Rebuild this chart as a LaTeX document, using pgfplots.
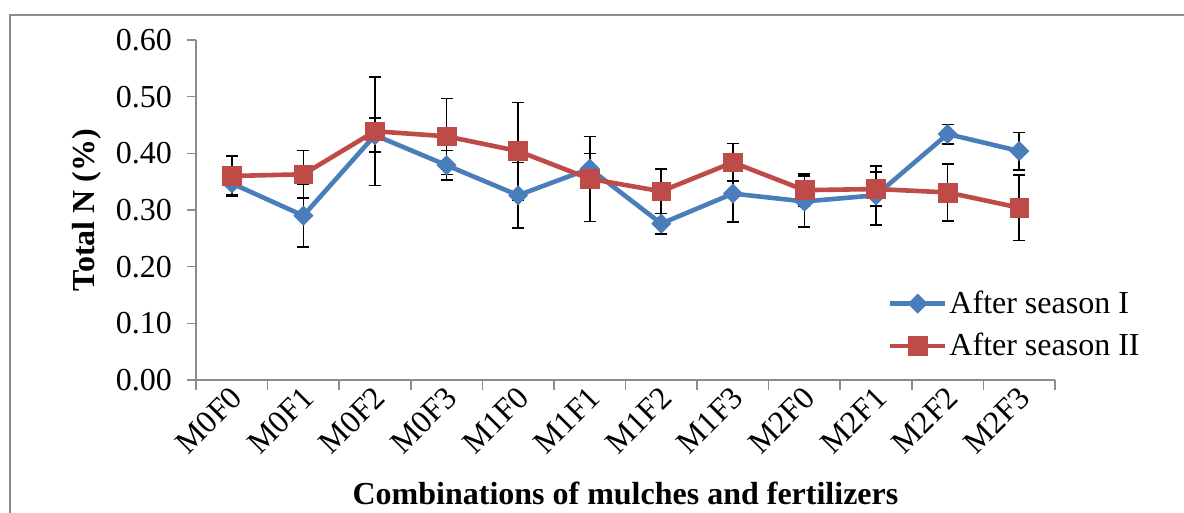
\documentclass[border=0pt]{standalone}
\usepackage{pgfplots}
\pgfplotsset{compat=1.18}
\usepackage{pgfplotstable}
\usepackage{fontspec}
\setmainfont{Liberation Serif}
\definecolor{sblue}{HTML}{4A7EBB}
\definecolor{sred}{HTML}{BE4B48}
\definecolor{axgray}{HTML}{8C8C8C}
\newcommand{\fs}{\fontsize{16}{19}\selectfont}

\pgfplotstableread{
x y e
0 0.347 0.020
1 0.290 0.055
2 0.432 0.030
3 0.379 0.026
4 0.326 0.058
5 0.373 0.027
6 0.276 0.018
7 0.329 0.050
8 0.315 0.045
9 0.326 0.052
10 0.434 0.017
11 0.404 0.033
}\seasonI

\pgfplotstableread{
x y e
0 0.360 0.035
1 0.363 0.042
2 0.439 0.096
3 0.430 0.067
4 0.404 0.086
5 0.355 0.075
6 0.333 0.039
7 0.384 0.033
8 0.335 0.028
9 0.337 0.030
10 0.331 0.050
11 0.304 0.058
}\seasonII

\begin{document}
\begin{tikzpicture}[font=\fs]
\useasboundingbox (0,0) rectangle (592pt,256.5pt);
\draw[axgray, line width=0.8pt] (5pt,0) -- (5pt,249pt) -- (592pt,249pt);
\begin{axis}[
  at={(98pt,66.5pt)}, anchor=south west,
  scale only axis, width=429.5pt, height=170pt,
  xmin=-0.5, xmax=11.5, ymin=0, ymax=0.6,
  axis lines*=left,
  axis line style={axgray, line width=0.8pt},
  every tick/.style={axgray, line width=0.8pt},
  tick align=outside,
  xtick={0,...,11},
  xticklabels={M0F0,M0F1,M0F2,M0F3,M1F0,M1F1,M1F2,M1F3,M2F0,M2F1,M2F2,M2F3},
  major x tick style={draw=none},
  minor xtick={-0.5,0.5,...,11.5},
  minor tick length=5pt,
  major tick length=4.5pt,
  ytick={0,0.1,...,0.6},
  /pgf/number format/fixed,
  /pgf/number format/fixed zerofill,
  /pgf/number format/precision=2,
  /pgf/number format/assume math mode=true,
  yticklabel style={font=\fs, xshift=-4pt},
  xticklabel style={font=\fs, rotate=45, anchor=east, xshift=4pt, yshift=-3pt},
  xlabel={\textbf{Combinations of mulches and fertilizers}},
  ylabel={\textbf{Total N (\%)}},
  xlabel style={font=\fs, at={(axis description cs:0.5,-0.365)}, anchor=base},
  ylabel style={font=\fs, at={(axis description cs:-0.118,0.5)}, anchor=base, rotate=0},
  legend style={at={(axis description cs:0.805,0.162)}, anchor=west, draw=none, fill=none,
    font=\fs, inner sep=0pt, row sep=8.5pt, nodes={inner xsep=1pt, inner ysep=0pt}},
  legend cell align=left,
  legend image code/.code={\draw[#1, mark=none] (0pt,0pt) -- (27.5pt,0pt);
     \draw[#1, only marks] plot coordinates {(13.75pt,0pt)};},
  clip=false,
  error bars/error bar style={black, line width=0.8pt},
  error bars/error mark options={black, rotate=90, mark size=3pt, line width=0.8pt},
]
\addplot[sblue, line width=2.3pt, mark=square*, mark size=3.4pt,
  mark options={rotate=45, fill=sblue, draw=sblue, line width=0.3pt},
  error bars/.cd, y dir=both, y explicit]
  table[x=x, y=y, y error=e] {\seasonI};
\addlegendentry{After season I}
\addplot[sred, line width=2.3pt, mark=square*, mark size=4.7pt,
  mark options={fill=sred, draw=sred, line width=0.3pt},
  error bars/.cd, y dir=both, y explicit]
  table[x=x, y=y, y error=e] {\seasonII};
\addlegendentry{After season II}
\end{axis}
\end{tikzpicture}
\end{document}
